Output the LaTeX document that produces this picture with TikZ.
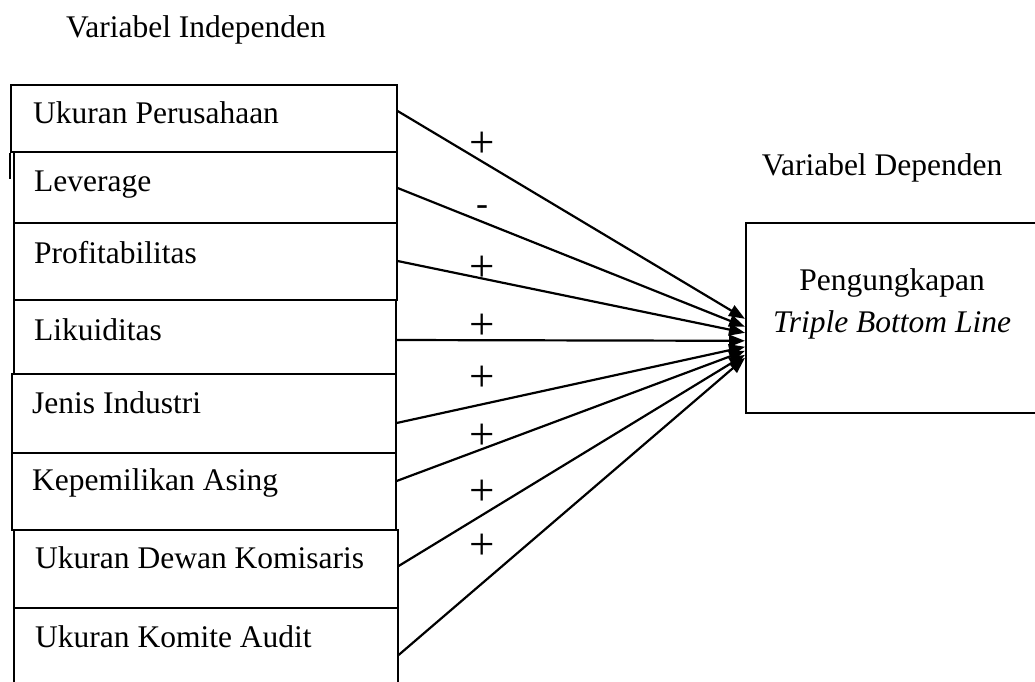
\documentclass[tikz,border=0pt]{standalone}
\usepackage{fontspec}
\setmainfont{Liberation Serif}
\usetikzlibrary{arrows.meta,calc}
\begin{document}
\begin{tikzpicture}[x=1pt,y=-1pt,
  box/.style={draw,line width=1.6pt,rectangle,anchor=north west,inner sep=0pt},
  lbl/.style={anchor=base west,inner sep=0pt,font=\fontsize{31.5}{36}\selectfont},
  ttl/.style={anchor=base,inner sep=0pt,font=\fontsize{31.5}{36}\selectfont},
  plus/.style={inner sep=0pt,font=\fontsize{45}{45}\selectfont},
  minus/.style={inner sep=0pt,font=\fontsize{36}{36}\selectfont},
  arr/.style={line width=2.2pt,-{Triangle[length=16pt,width=12pt]}}]
\useasboundingbox (0,0) rectangle (1035,681);
\clip (0,0) rectangle (1035,681);

% titles
\node[ttl] (ti) at (196,37) {Variabel Independen};
\node[ttl] (td) at (882,175) {Variabel Dependen};

% independent variable boxes
\node[box,minimum width=386pt,minimum height=67pt] (b1) at (10,84) {};
\node[box,minimum width=383pt,minimum height=71pt] (b2) at (13,151) {};
\node[box,minimum width=383pt,minimum height=77pt] (b3) at (13,222) {};
\node[box,minimum width=382pt,minimum height=74pt] (b4) at (13,299) {};
\node[box,minimum width=384pt,minimum height=79pt] (b5) at (11,373) {};
\node[box,minimum width=384pt,minimum height=77pt] (b6) at (11,452) {};
\node[box,minimum width=384pt,minimum height=78pt] (b7) at (13,529) {};
\node[box,minimum width=384pt,minimum height=90pt] (b8) at (13,607) {};
\draw[line width=1.6pt] (b1.south west) -- ++(0,26);

\node[lbl] (t1) at (33,123) {Ukuran Perusahaan};
\node[lbl] (t2) at (34,191) {Leverage};
\node[lbl] (t3) at (34,263) {Profitabilitas};
\node[lbl] (t4) at (34,340) {Likuiditas};
\node[lbl] (t5) at (32,413) {Jenis Industri};
\node[lbl] (t6) at (32,490) {Kepemilikan Asing};
\node[lbl] (t7) at (35,568) {Ukuran Dewan Komisaris};
\node[lbl] (t8) at (35,647) {Ukuran Komite Audit};

% dependent variable box
\node[box,minimum width=300pt,minimum height=190pt] (dv) at (745,222) {};
\node[ttl] (d1) at (892,290) {Pengungkapan};
\node[ttl] (d2) at (892,332) {\itshape Triple Bottom Line};

% arrows
\draw[arr] ($(b1.north east)+(0,27)$) -- ($(dv.west)+(0,1)$);
\draw[arr] ($(b2.north east)+(0,37)$) -- ($(dv.west)+(0,9)$);
\draw[arr] ($(b3.north east)+(0,39)$) -- ($(dv.west)+(0,15)$);
\draw[arr] ($(b4.north east)+(0,41)$) -- ($(dv.west)+(0,23)$);
\draw[arr] ($(b5.north east)+(0,50)$) -- ($(dv.west)+(0,29)$);
\draw[arr] ($(b6.north east)+(0,29)$) -- ($(dv.west)+(0,33)$);
\draw[arr] ($(b7.north east)+(0,37)$) -- ($(dv.west)+(0,37)$);
\draw[arr] ($(b8.north east)+(0,48)$) -- ($(dv.west)+(0,40)$);

% signs
\node[plus] (s1) at (482,145) {+};
\node[minus] (s2) at (482,211) {-};
\node[plus] (s3) at (482,269) {+};
\node[plus] (s4) at (482,327) {+};
\node[plus] (s5) at (482,379) {+};
\node[plus] (s6) at (482,437) {+};
\node[plus] (s7) at (482,493) {+};
\node[plus] (s8) at (482,547) {+};
\end{tikzpicture}
\end{document}
